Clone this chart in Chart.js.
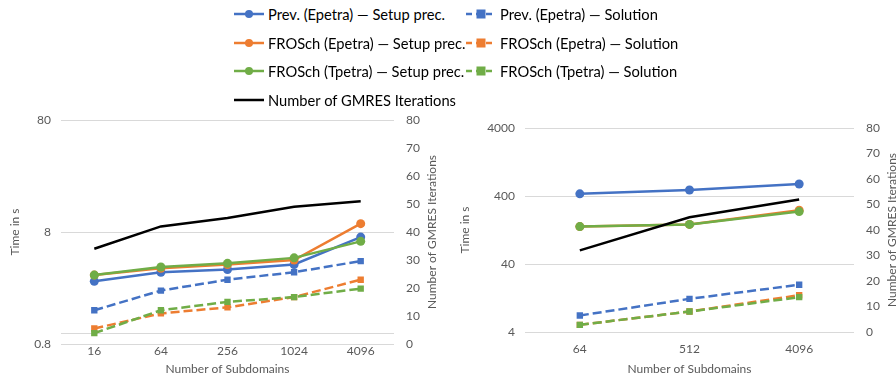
<!DOCTYPE html>
<html>
<head>
<meta charset="utf-8">
<script src="https://cdn.jsdelivr.net/npm/chart.js@4.4.1/dist/chart.umd.min.js"></script>
<style>
  html, body { margin: 0; padding: 0; background: #fff; overflow: hidden; }
  body { width: 896px; height: 379px; position: relative; font-family: Lato, "Open Sans", sans-serif; }
  #legend { position: absolute; left: 233px; top: 0; display: grid; grid-template-columns: 232px 240px; grid-auto-rows: 28.5px; }
  .item { display: flex; align-items: center; font-size: 14.7px; color: #000; white-space: nowrap; }
  .item canvas { margin-right: 3px; }
  #wrapA { position: absolute; left: 0; top: 110px; }
  #wrapB { position: absolute; left: 450px; top: 110px; }
</style>
</head>
<body>
<div id="legend"></div>
<div id="wrapA"><canvas id="chartA" width="450" height="269"></canvas></div>
<div id="wrapB"><canvas id="chartB" width="462" height="269"></canvas></div>
<script>
// left panel
var subdomainsA = ['16', '64', '256', '1024', '4096'];
var prevSetupA = [2.9, 3.5, 3.7, 4.1, 7.2];
var prevSolA = [1.6, 2.4, 3.0, 3.5, 4.4];
var epSetupA = [3.3, 3.8, 4.1, 4.5, 9.5];
var epSolA = [1.1, 1.5, 1.7, 2.1, 3.0];
var tpSetupA = [3.3, 3.9, 4.2, 4.7, 6.6];
var tpSolA = [1.0, 1.6, 1.9, 2.1, 2.5];
var gmresA = [34, 42, 45, 49, 51];
var timeTicksA = [0.8, 1, 8, 80];

// right panel
var subdomainsB = ['64', '512', '4096'];
var prevSetupB = [430, 490, 600];
var prevSolB = [7.0, 12.3, 19.8];
var epSetupB = [142, 153, 247];
var epSolB = [5.1, 8.0, 13.9];
var tpSetupB = [142, 153, 236];
var tpSolB = [5.1, 8.0, 13.0];
var gmresB = [32, 45, 52];
var timeTicksB = [4, 40, 400, 4000];

var names = [
    'Prev. (Epetra) \u2014 Setup prec.', 'Prev. (Epetra) \u2014 Solution',
    'FROSch (Epetra) \u2014 Setup prec.', 'FROSch (Epetra) \u2014 Solution',
    'FROSch (Tpetra) \u2014 Setup prec.', 'FROSch (Tpetra) \u2014 Solution',
    'Number of GMRES Iterations'
];
var colors = ['#4472C4', '#4472C4', '#ED7D31', '#ED7D31', '#70AD47', '#70AD47', '#000000'];
var dashed = [false, true, false, true, false, true, false];
var marks = ['circle', 'rect', 'circle', 'rect', 'circle', 'rect', false];

var font = 'Lato, "Open Sans", sans-serif';
var gray = '#595959';

// right axis title reads bottom to top, like in Excel
var rightTitle = {
    id: 'rightTitle',
    afterDraw: function (chart, args, opts) {
        var g = chart.ctx;
        var area = chart.chartArea;
        g.save();
        g.translate(opts.x, (area.top + area.bottom) / 2);
        g.rotate(-Math.PI / 2);
        g.font = '12px ' + font;
        g.fillStyle = gray;
        g.textAlign = 'center';
        g.textBaseline = 'middle';
        g.fillText('Number of GMRES Iterations', 0, 0);
        g.restore();
    }
};

function makeSets(series) {
    return series.map(function (d, i) {
        return {
            label: names[i],
            data: d,
            yAxisID: i == 6 ? 'y1' : 'y',
            borderColor: colors[i],
            backgroundColor: colors[i],
            borderWidth: 2.5,
            borderDash: dashed[i] ? [9, 4] : [],
            pointStyle: marks[i],
            pointRadius: marks[i] ? 4.5 : 0,
            pointBorderWidth: 0,
            tension: 0,
            order: 10 - i
        };
    });
}

// fixed axis sizes so both plot areas sit where Excel put them
function fixWidth(w) {
    return function (s) { s.width = w; s.paddingTop = 0; s.paddingBottom = 0; };
}

function makeOptions(ticks, yWidth, y1Width, xHeight, padTop, xPad, titleX) {
    return {
        responsive: false,
        animation: false,
        layout: { padding: { top: padTop, left: 0, right: 0, bottom: 0 } },
        plugins: {
            legend: { display: false },
            tooltip: { enabled: false },
            rightTitle: { x: titleX }
        },
        scales: {
            x: {
                offset: true,
                grid: { display: false, drawTicks: false },
                border: { display: false },
                ticks: { color: gray, font: { family: font, size: 12 }, padding: xPad },
                title: { display: true, text: 'Number of Subdomains', color: gray, font: { family: font, size: 12 }, padding: { top: 0, bottom: 3 } },
                afterFit: function (s) { s.height = xHeight; s.paddingLeft = 0; s.paddingRight = 0; }
            },
            y: {
                type: 'logarithmic',
                position: 'left',
                min: ticks[0],
                max: ticks[ticks.length - 1],
                afterBuildTicks: function (s) {
                    s.ticks = ticks.map(function (v) { return { value: v }; });
                },
                grid: { color: '#D9D9D9', lineWidth: 1, drawTicks: false },
                border: { display: false },
                ticks: {
                    autoSkip: false,
                    color: gray, font: { family: font, size: 12 }, padding: 10,
                    callback: function (v) { return v == 1 ? '' : String(v); }
                },
                title: { display: true, text: 'Time in s', color: gray, font: { family: font, size: 12 }, padding: { top: 8, bottom: 0 } },
                afterFit: fixWidth(yWidth)
            },
            y1: {
                type: 'linear',
                position: 'right',
                min: 0,
                max: 80,
                ticks: { stepSize: 10, autoSkip: false, color: gray, font: { family: font, size: 12 }, padding: 12 },
                grid: { display: false, drawTicks: false },
                border: { display: false },
                afterFit: fixWidth(y1Width)
            }
        }
    };
}

new Chart(document.getElementById('chartA').getContext('2d'), {
    type: 'line',
    data: {
        labels: subdomainsA,
        datasets: makeSets([prevSetupA, prevSolA, epSetupA, epSolA, tpSetupA, tpSolA, gmresA])
    },
    options: makeOptions(timeTicksA, 61, 56, 35, 10, 0, 432),
    plugins: [rightTitle]
});

new Chart(document.getElementById('chartB').getContext('2d'), {
    type: 'line',
    data: {
        labels: subdomainsB,
        datasets: makeSets([prevSetupB, prevSolB, epSetupB, epSolB, tpSetupB, tpSolB, gmresB])
    },
    options: makeOptions(timeTicksB, 75, 58, 47, 18, 10, 442),
    plugins: [rightTitle]
});

// shared legend
var legend = document.getElementById('legend');
names.forEach(function (n, i) {
    var item = document.createElement('div');
    item.className = 'item';
    var c = document.createElement('canvas');
    c.width = 32; c.height = 14;
    var g = c.getContext('2d');
    g.strokeStyle = colors[i];
    g.fillStyle = colors[i];
    g.lineWidth = 2.5;
    if (dashed[i]) g.setLineDash([6, 4]);
    g.beginPath(); g.moveTo(1, 7); g.lineTo(31, 7); g.stroke();
    if (marks[i] == 'circle') { g.beginPath(); g.arc(16, 7, 4, 0, Math.PI * 2); g.fill(); }
    if (marks[i] == 'rect') { g.fillRect(11.5, 2.5, 9, 9); }
    item.appendChild(c);
    var t = document.createElement('span');
    t.textContent = n;
    item.appendChild(t);
    legend.appendChild(item);
});
</script>
</body>
</html>
